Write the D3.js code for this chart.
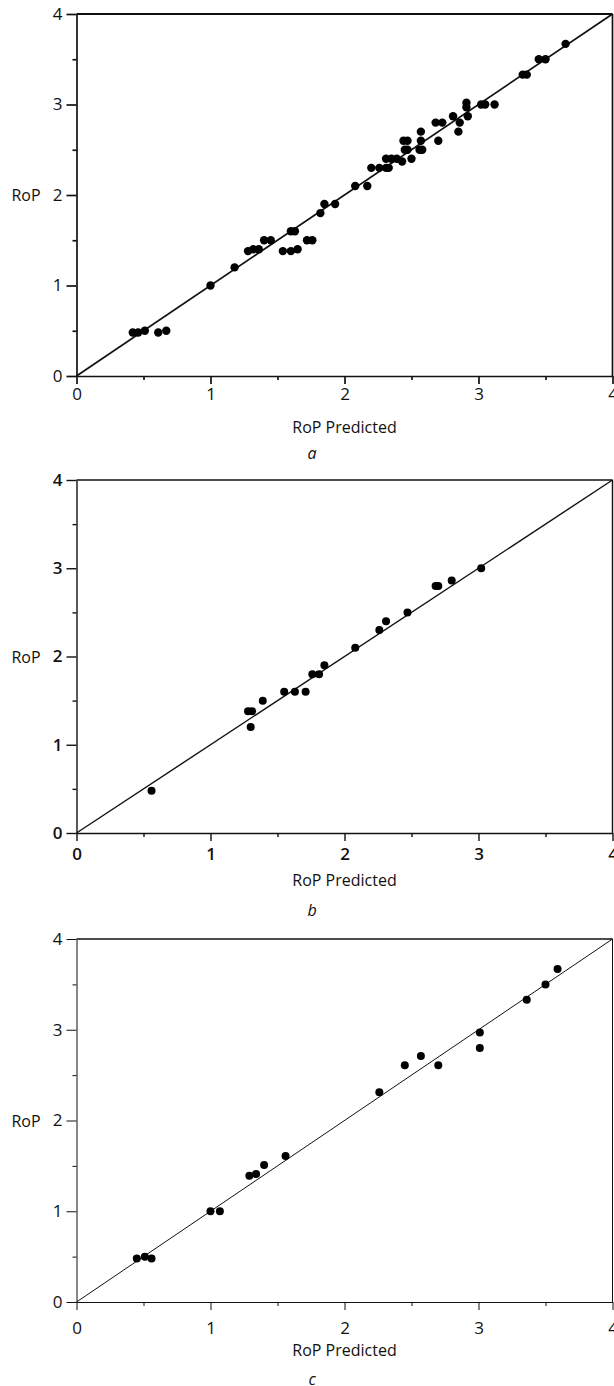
<!DOCTYPE html>
<html>
<head>
<meta charset="utf-8">
<script src="https://cdn.jsdelivr.net/npm/d3@7"></script>
<style>
  body { margin: 0; background: #fff; }
  svg text { font-family: "Open Sans", "Noto Sans", sans-serif; fill: #111; }
</style>
</head>
<body>
<div class="d3-here"></div>
<script>
// data: [RoP Predicted, RoP]
var ticksMajor = [0, 1, 2, 3, 4];
var ticksMinor = [0.5, 1.5, 2.5, 3.5];
var panelLetters = ['a', 'b', 'c'];

var predA = [3.65, 3.45, 3.50, 3.33, 3.36, 3.02, 3.05, 3.12, 2.91, 2.91, 2.92, 2.81, 2.86, 2.85,
  2.68, 2.73, 2.70, 2.57, 2.57, 2.56, 2.58, 2.44, 2.47, 2.45, 2.47, 2.50, 2.43, 2.35, 2.39,
  2.31, 2.31, 2.33, 2.20, 2.26, 2.08, 2.17, 1.85, 1.93, 1.82, 1.60, 1.63, 1.72, 1.76,
  1.54, 1.60, 1.65, 1.40, 1.45, 1.28, 1.32, 1.36, 1.18, 1.00, 0.42, 0.46, 0.51, 0.61, 0.67];
var ropA = [3.67, 3.50, 3.50, 3.33, 3.33, 3.00, 3.00, 3.00, 3.02, 2.97, 2.87, 2.87, 2.80, 2.70,
  2.80, 2.80, 2.60, 2.70, 2.60, 2.50, 2.50, 2.60, 2.60, 2.50, 2.50, 2.40, 2.37, 2.40, 2.40,
  2.40, 2.30, 2.30, 2.30, 2.30, 2.10, 2.10, 1.90, 1.90, 1.80, 1.60, 1.60, 1.50, 1.50,
  1.38, 1.38, 1.40, 1.50, 1.50, 1.38, 1.40, 1.40, 1.20, 1.00, 0.48, 0.48, 0.50, 0.48, 0.50];

var predB = [3.02, 2.80, 2.68, 2.70, 2.47, 2.31, 2.26, 2.08, 1.85, 1.76, 1.81, 1.55, 1.63, 1.71,
  1.39, 1.28, 1.31, 1.30, 0.56];
var ropB = [3.00, 2.86, 2.80, 2.80, 2.50, 2.40, 2.30, 2.10, 1.90, 1.80, 1.80, 1.60, 1.60, 1.60,
  1.50, 1.38, 1.38, 1.20, 0.48];

var predC = [3.59, 3.50, 3.36, 3.01, 3.01, 2.57, 2.45, 2.70, 2.26, 1.56, 1.40, 1.29, 1.34,
  1.00, 1.07, 0.45, 0.51, 0.56];
var ropC = [3.67, 3.50, 3.33, 2.97, 2.80, 2.71, 2.61, 2.61, 2.31, 1.61, 1.51, 1.39, 1.41,
  1.00, 1.00, 0.48, 0.50, 0.48];

// layout
var width = 614, height = 1386;
var left = 76.5, right = 612.5;
var panels = [
  { top: 14, bottom: 376, px: predA, py: ropA, lw: 1.7, r: 4.2, tickW: 400, ink: '#111', tickDy: 17, labDy: 51, letDy: 77 },
  { top: 480, bottom: 833, px: predB, py: ropB, lw: 1.4, r: 4, tickW: 600, ink: '#000', tickDy: 20, labDy: 47, letDy: 77 },
  { top: 939, bottom: 1302, px: predC, py: ropC, lw: 1, r: 4, tickW: 400, ink: '#333', tickDy: 25, labDy: 48, letDy: 77 }
];

var svg = d3.select('.d3-here')
  .append('svg')
  .attr('width', width)
  .attr('height', height);

svg.append('rect').attr('width', width).attr('height', height).attr('fill', '#fff');

panels.forEach(function(p, k) {
  var x = d3.scaleLinear().domain([0, 4]).range([left, right]);
  var y = d3.scaleLinear().domain([0, 4]).range([p.bottom, p.top]);
  var g = svg.append('g').attr('class', 'panel-' + panelLetters[k]);

  // frame: top and right
  g.append('line')
    .attr('x1', x(0)).attr('x2', x(4)).attr('y1', y(4)).attr('y2', y(4))
    .attr('stroke', '#111').attr('stroke-width', p.lw + 0.3);
  g.append('line')
    .attr('x1', x(4)).attr('x2', x(4)).attr('y1', y(4)).attr('y2', y(0))
    .attr('stroke', '#111').attr('stroke-width', p.lw);

  // x axis
  var xAxis = g.append('g')
    .attr('transform', 'translate(0,' + y(0) + ')')
    .call(d3.axisBottom(x).tickValues(ticksMajor).tickSize(8).tickSizeOuter(0).tickPadding(3).tickFormat(d3.format('d')));
  g.append('g')
    .attr('transform', 'translate(0,' + y(0) + ')')
    .call(d3.axisBottom(x).tickValues(ticksMinor).tickSize(4).tickSizeOuter(0).tickFormat(''))
    .select('.domain').remove();

  // y axis
  g.append('g')
    .attr('transform', 'translate(' + x(0) + ',0)')
    .call(d3.axisLeft(y).tickValues(ticksMajor).tickSize(10).tickSizeOuter(0).tickPadding(4).tickFormat(d3.format('d')));
  g.append('g')
    .attr('transform', 'translate(' + x(0) + ',0)')
    .call(d3.axisLeft(y).tickValues(ticksMinor).tickSize(4).tickSizeOuter(0).tickFormat(''))
    .select('.domain').remove();

  g.selectAll('.domain, .tick line')
    .attr('stroke', '#111')
    .attr('stroke-width', p.lw);
  g.selectAll('.tick text')
    .attr('font-family', '"Open Sans", "Noto Sans", sans-serif')
    .attr('font-size', 17)
    .attr('font-weight', p.tickW)
    .attr('fill', p.ink);
  xAxis.selectAll('.tick text').attr('dy', null)
    .attr('y', p.tickDy).attr('dominant-baseline', 'central');

  // diagonal line y = x
  g.append('line')
    .attr('x1', x(0)).attr('y1', y(0))
    .attr('x2', x(4)).attr('y2', y(4))
    .attr('stroke', '#111')
    .attr('stroke-width', p.lw);

  // points
  g.append('g').selectAll('circle')
    .data(p.px.map(function(v, i) { return [v, p.py[i]]; }))
    .enter()
    .append('circle')
    .attr('cx', function(d) { return x(d[0]); })
    .attr('cy', function(d) { return y(d[1]); })
    .attr('r', p.r)
    .attr('fill', '#000');

  // labels
  g.append('text')
    .attr('x', (left + right) / 2)
    .attr('y', p.bottom + p.labDy)
    .attr('text-anchor', 'middle')
    .attr('dominant-baseline', 'central')
    .attr('font-size', 16)
    .attr('fill', p.ink)
    .text('RoP Predicted');

  g.append('text')
    .attr('x', 26)
    .attr('y', y(2))
    .attr('text-anchor', 'middle')
    .attr('dominant-baseline', 'central')
    .attr('font-size', 16)
    .attr('fill', p.ink)
    .text('RoP');

  g.append('text')
    .attr('x', 312)
    .attr('y', p.bottom + p.letDy)
    .attr('text-anchor', 'middle')
    .attr('dominant-baseline', 'central')
    .attr('font-size', 16)
    .attr('font-style', 'italic')
    .attr('fill', p.ink)
    .text(panelLetters[k]);
});
</script>
</body>
</html>
